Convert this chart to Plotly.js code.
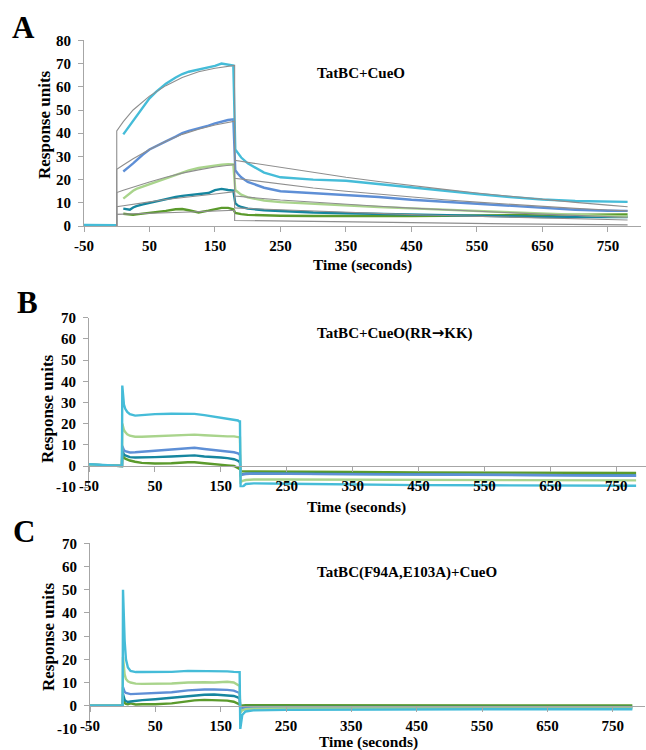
<!DOCTYPE html>
<html>
<head>
<meta charset="utf-8">
<script src="https://cdn.plot.ly/plotly-3.0.1.min.js"></script>
<style>html,body{margin:0;padding:0;background:#fff;}#chart{width:646px;height:750px;}</style>
</head>
<body>
<div id="chart"></div>
<script>
// ---------- Panel A : TatBC + CueO ----------
const tBaseA = [-50, -25, -1];
const vBaseA = [0.5, 0.4, 0.3];
const tAssocA = [10, 15, 20, 25, 30, 40, 50, 60, 75, 90, 100, 110, 125, 140, 150, 160, 170, 178];
const tDissA  = [181, 185, 190, 200, 225, 250, 300, 350, 400, 450, 500, 550, 600, 650, 700, 750, 780];
const cyanAssocA  = [39.5, 41.5, 43.5, 45.5, 47.5, 51.5, 55, 57.8, 61.3, 64, 65.5, 66.5, 67.5, 68.3, 69, 70, 69.5, 69.2];
const blueAssocA  = [23.5, 24.5, 25.8, 27, 28.3, 30.8, 33, 34.5, 36.5, 38.5, 40, 41, 42, 43.3, 44.2, 45, 45.7, 46];
const greenAssocA = [11.8, 13, 14.2, 15.2, 16, 17, 18, 19, 20.5, 22, 23, 24, 25, 25.7, 26, 26.4, 26.6, 26.5];
const tealAssocA  = [7.5, 7.3, 7, 8, 8.6, 9.3, 10, 10.6, 11.6, 12.5, 13, 13.3, 13.6, 14.2, 15.5, 16, 15.5, 15.3];
const dkgrAssocA  = [5.3, 5.1, 4.9, 4.8, 5, 5.3, 5.6, 6, 6.5, 7.2, 7.3, 6.8, 5.8, 6.6, 7.3, 7.8, 7.8, 7.2];
const cyanDissA  = [33, 31.5, 29.5, 27, 23, 21, 20, 19.5, 18, 16.5, 15, 13.8, 12.5, 11.4, 10.8, 10.5, 10.4];
const blueDissA  = [24, 22.5, 21, 19, 16.5, 15, 14.2, 13.5, 12.5, 11.3, 10.4, 9.6, 8.6, 7.7, 7, 6.6, 6.5];
const greenDissA = [15.5, 14.5, 13.5, 12.3, 11, 10.3, 9.5, 8.8, 8.2, 7.6, 7, 6.4, 5.8, 5.2, 4.7, 4.3, 4.1];
const tealDissA  = [9.8, 8.8, 8.2, 7.5, 6.8, 6.4, 5.8, 5.5, 5.2, 4.8, 4.5, 4.2, 4, 3.9, 3.9, 3.9, 3.9];
const dkgrDissA  = [5.6, 5.3, 5.1, 4.8, 4.5, 4.4, 4.3, 4.2, 4.2, 4.3, 4.4, 4.5, 4.6, 4.7, 4.8, 5, 5];
// fitted curves (grey)
const tFitAssocA = [0, 10, 25, 50, 75, 100, 125, 150, 180];
const tFitDissA  = [180, 250, 300, 350, 400, 450, 500, 550, 600, 650, 700, 750, 780];
const cyanFitAssoc  = [41, 45, 50, 56, 60.5, 64, 66.5, 68, 69.2];
const blueFitAssoc  = [24.4, 26.3, 29, 33, 36.5, 39.5, 41.7, 43.5, 45.2];
const greenFitAssoc = [14.4, 15.4, 16.8, 19, 21, 22.8, 24.2, 25.4, 26.5];
const tealFitAssoc  = [8.3, 8.7, 9.4, 10.4, 11.4, 12.3, 13, 13.8, 14.8];
const dkgrFitAssoc  = [5, 5.1, 5.2, 5.4, 5.6, 5.9, 6.2, 6.5, 6.8];
const cyanFitDiss  = [28.3, 25.2, 23, 21, 19.2, 17.4, 15.8, 14.2, 12.8, 11.4, 10.2, 9, 8.3];
const blueFitDiss  = [20.6, 18, 16.4, 15, 13.7, 12.5, 11.3, 10.3, 9.3, 8.4, 7.6, 6.9, 6.5];
const greenFitDiss = [12.9, 11.2, 10.2, 9.3, 8.5, 7.7, 7, 6.3, 5.7, 5.1, 4.6, 4.1, 3.8];
const tealFitDiss  = [7.8, 7, 6.4, 5.9, 5.4, 4.9, 4.5, 4.1, 3.7, 3.4, 3.1, 2.8, 2.6];
const dkgrFitDiss  = [2.4, 2.1, 1.9, 1.7, 1.5, 1.3, 1.2, 1.0, 0.9, 0.8, 0.7, 0.6, 0.5];

// ---------- Panel B : TatBC + CueO(RR->KK) ----------
const tB = [-50, -25, -1, 0, 0.5, 1.5, 3, 5, 8, 12, 20, 30, 50, 75, 100, 110, 125, 140, 150, 160, 170, 176, 178, 179, 180, 183, 188, 200, 250, 350, 450, 550, 650, 750, 780];
const cyanB  = [0.8, 0.4, 0, 0, 38, 33, 29, 27, 25.5, 24.5, 23.8, 24, 24.5, 24.7, 24.8, 24.6, 24, 23.3, 22.8, 22.5, 22, 21.5, 21, 21, -10, -9.8, -8.5, -8.2, -8.4, -8.8, -9, -9.1, -9.2, -9.3, -9.3];
const greenB = [0.6, 0.3, 0, 0, 20, 18.5, 17, 16, 15, 14.3, 13.8, 13.8, 14, 14.3, 14.8, 14.8, 14.5, 14.2, 14, 14, 14, 13.8, 13.8, 13.5, -7.5, -7, -6.6, -6.4, -6.4, -6.5, -6.6, -6.7, -6.8, -6.8, -6.8];
const blueB  = [0.6, 0.3, 0, 0, 9.5, 8.5, 7.5, 7, 6.6, 6.4, 6.5, 6.8, 7.2, 7.8, 8.5, 8.6, 8, 7.5, 7.4, 7, 6.5, 6, 5.5, 5.2, -4.5, -4, -3.8, -3.6, -3.7, -3.9, -4.1, -4.3, -4.4, -4.6, -4.6];
const tealB  = [0.6, 0.3, 0, 0, 7.5, 6.5, 5.5, 5, 4.5, 4.2, 4, 4, 4.2, 4.5, 5, 5, 4.5, 4, 4, 3.7, 3.2, 2.5, 2, 1.8, -4, -3.8, -3.6, -3.5, -3.6, -3.9, -4.1, -4.3, -4.4, -4.5, -4.5];
const dkgrB  = [0.6, 0.3, 0, 0, 5.5, 4.5, 4, 3.5, 3, 2.6, 2, 1.5, 1.2, 1.3, 1.8, 1.8, 1.3, 1, 0.8, 0.3, 0, -0.8, -1.2, -1.5, -2.5, -2.5, -2.5, -2.5, -2.6, -2.8, -3, -3.1, -3.2, -3.3, -3.3];

// ---------- Panel C : TatBC(F94A,E103A) + CueO ----------
const tC = [-50, -25, -1, 0, 0.5, 1.5, 3, 5, 8, 12, 20, 30, 50, 75, 100, 110, 125, 140, 150, 160, 170, 176, 178, 179, 180, 183, 188, 200, 250, 350, 450, 550, 650, 750, 780];
const cyanC  = [0, 0, 0, 0, 50, 40, 28, 20, 16.5, 15, 14.5, 14.5, 14.5, 14.6, 15, 15, 15, 15, 14.8, 14.8, 14.6, 14.5, 14.5, 14.5, -10, -4, -2.5, -2, -1.8, -1.6, -1.5, -1.5, -1.5, -1.5, -1.5];
const greenC = [0, 0, 0, 0, 21, 17, 13.5, 11.5, 10.5, 10, 9.5, 9.4, 9.4, 9.6, 10, 10.1, 10.1, 10, 10.1, 10.3, 10, 9.2, 8.8, 8.5, -3, -2, -1.5, -1.3, -1.2, -1.2, -1.2, -1.2, -1.2, -1.2, -1.2];
const blueC  = [0, 0, 0, 0, 8, 7, 6, 5.5, 5.2, 5, 5.1, 5.2, 5.4, 5.8, 6.6, 6.8, 7, 7, 7, 6.8, 6.5, 6, 5.6, 5.4, -2, -1.2, -1, -0.9, -0.8, -0.8, -0.8, -0.8, -0.8, -0.8, -0.8];
const tealC  = [0, 0, 0, 0, 5, 3.5, 2.5, 2, 1.6, 1.8, 2.2, 2.4, 2.8, 3.5, 4.2, 4.5, 4.7, 4.8, 4.7, 4.5, 4.2, 3.6, 3.2, 3, -1, -0.6, -0.5, -0.5, -0.5, -0.5, -0.5, -0.5, -0.5, -0.5, -0.5];
const dkgrC  = [0, 0, 0, 0, 3, 2, 1.2, 0.8, 0.6, 1, 0.5, 0.6, 0.6, 1, 2, 2.3, 2.5, 2.5, 2.4, 2.2, 1.7, 1, 0.7, 0.5, 0, 0.2, 0.2, 0.2, 0.2, 0.4, 0.4, 0.3, 0.1, 0.1, 0.1];

const tickValsX  = [-50, 50, 150, 250, 350, 450, 550, 650, 750];
const tickValsYA = [0, 10, 20, 30, 40, 50, 60, 70, 80];
const tickValsYB = [-10, 0, 10, 20, 30, 40, 50, 60, 70];
const titlesPanel = ['TatBC+CueO', 'TatBC+CueO(RR<span style="font-family:\'DejaVu Sans\'">\u2192</span>KK)', 'TatBC(F94A,E103A)+CueO'];

// ---------- styling ----------
const COL = {cyan: '#45BCD8', blue: '#5E8FD6', green: '#A9D48C', teal: '#16869F', dkgr: '#5B9A2C', fit: '#8E8E8E'};
const FONT = 'Liberation Serif, Times New Roman, serif';
const W = 646, H = 750;
const px = v => v / W, py = v => 1 - v / H;

function line(x, y, color, ax, width) {
  return {x: x, y: y, type: 'scatter', mode: 'lines', xaxis: ax[0], yaxis: ax[1],
          line: {color: color, width: width || 2.4}, connectgaps: false, hoverinfo: 'skip'};
}
const traces = [];
// Panel A data
const axA = ['x', 'y'];
traces.push(line(tAssocA.concat(tDissA), dkgrAssocA.concat(dkgrDissA), COL.dkgr, axA));
traces.push(line(tAssocA.concat(tDissA), tealAssocA.concat(tealDissA), COL.teal, axA));
traces.push(line(tAssocA.concat(tDissA), greenAssocA.concat(greenDissA), COL.green, axA));
traces.push(line(tAssocA.concat(tDissA), blueAssocA.concat(blueDissA), COL.blue, axA));
traces.push(line(tBaseA.concat([null], tAssocA, tDissA), vBaseA.concat([null], cyanAssocA, cyanDissA), COL.cyan, axA));
// Panel A fits
[[cyanFitAssoc, cyanFitDiss], [blueFitAssoc, blueFitDiss], [greenFitAssoc, greenFitDiss],
 [tealFitAssoc, tealFitDiss], [dkgrFitAssoc, dkgrFitDiss]].forEach(f => {
  traces.push(line([0].concat(tFitAssocA, tFitDissA), [0].concat(f[0], f[1]), COL.fit, axA, 1.1));
});
// Panel B
const axB = ['x2', 'y2'];
traces.push(line(tB, dkgrB, COL.dkgr, axB));
traces.push(line(tB, tealB, COL.teal, axB));
traces.push(line(tB, blueB, COL.blue, axB));
traces.push(line(tB, greenB, COL.green, axB));
traces.push(line(tB, cyanB, COL.cyan, axB));
// Panel C
const axC = ['x3', 'y3'];
traces.push(line(tC, dkgrC, COL.dkgr, axC));
traces.push(line(tC, tealC, COL.teal, axC));
traces.push(line(tC, blueC, COL.blue, axC));
traces.push(line(tC, greenC, COL.green, axC));
traces.push(line(tC, cyanC, COL.cyan, axC));

const axisStyle = {
  showline: true, linecolor: '#A6A6A6', linewidth: 1, ticks: 'outside', ticklen: 5,
  tickcolor: '#A6A6A6', tickwidth: 1, showgrid: false, zeroline: false, tickmode: 'array',
  tickfont: {family: FONT, size: 15, color: '#000', weight: 'bold'}
};
function xa(domain, range, extra) {
  return Object.assign({}, axisStyle, {domain: domain, range: range, tickvals: tickValsX,
    ticktext: tickValsX.map(String), ticklabelstandoff: 1}, extra);
}
function ya(domain, range, anchor, vals) {
  return Object.assign({}, axisStyle, {domain: domain, range: range, anchor: anchor,
    tickvals: vals, ticktext: vals.map(String), ticklabelstandoff: 4});
}

const txt = (text, x, y, size, opts) => Object.assign({
  text: text, xref: 'paper', yref: 'paper', x: px(x), y: py(y), showarrow: false,
  xanchor: 'center', yanchor: 'middle',
  font: {family: FONT, size: size, color: '#000', weight: 'bold'}
}, opts || {});

const layout = {
  width: W, height: H, margin: {l: 0, r: 0, t: 0, b: 0},
  paper_bgcolor: '#fff', plot_bgcolor: 'rgba(0,0,0,0)', showlegend: false,
  xaxis:  xa([px(84), px(640.7)], [-50, 800], {anchor: 'y'}),
  yaxis:  ya([1 - 226 / H, 1 - 40.4 / H], [0, 80], 'x', tickValsYA),
  xaxis2: xa([px(89), 1], [-50, 795], {anchor: 'free', position: 1 - 466 / H}),
  yaxis2: ya([1 - 487.2 / H, 1 - 317.7 / H], [-10, 70], 'x2', tickValsYB),
  xaxis3: xa([px(90), px(645.4)], [-50, 800], {anchor: 'free', position: 1 - 705.7 / H}),
  yaxis3: ya([1 - 728.9 / H, 1 - 543.3 / H], [-10, 70], 'x3', tickValsYB),
  annotations: [
    txt('A', 10, 27, 31, {xanchor: 'left'}),
    txt('B', 15, 302, 31, {xanchor: 'left'}),
    txt('C', 11, 531, 31, {xanchor: 'left'}),
    txt('Response units', 45, 125, 17, {textangle: -90}),
    txt('Response units', 47, 408, 17, {textangle: -90}),
    txt('Response units', 48, 637, 17, {textangle: -90}),
    txt('Time (seconds)', 362, 265, 15.5),
    txt('Time (seconds)', 356, 507, 15.5),
    txt('Time (seconds)', 368, 742, 15.5),
    txt(titlesPanel[0], 315, 73, 15, {xanchor: 'left'}),
    txt(titlesPanel[1], 315, 333, 15, {xanchor: 'left'}),
    txt(titlesPanel[2], 315, 572, 15, {xanchor: 'left'})
  ]
};

Plotly.newPlot('chart', traces, layout, {staticPlot: true, displayModeBar: false});
</script>
</body>
</html>
